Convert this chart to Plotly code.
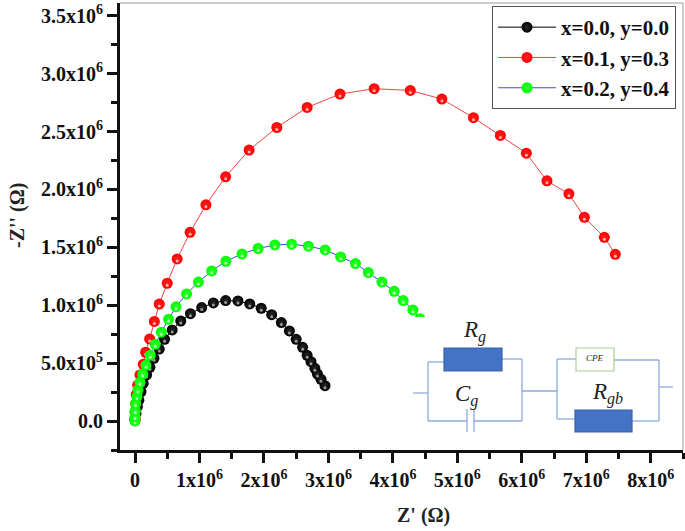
import plotly.graph_objects as go

# values, in units of 1e6 ohm
black_x = [0.0, 0.015, 0.036, 0.06, 0.093, 0.128, 0.18, 0.232, 0.294, 0.376, 0.459, 0.577, 0.71, 0.86, 1.035,
           1.216, 1.406, 1.597, 1.78, 1.958, 2.12, 2.27, 2.395, 2.50, 2.60, 2.67, 2.73, 2.79, 2.83, 2.885, 2.947]
black_y = [0.01, 0.066, 0.124, 0.18, 0.253, 0.326, 0.398, 0.464, 0.542, 0.622, 0.706, 0.787, 0.864, 0.927, 0.98,
           1.02, 1.04, 1.037, 1.011, 0.974, 0.919, 0.85, 0.778, 0.706, 0.637, 0.568, 0.513, 0.455, 0.406, 0.36, 0.305]

red_x = [0.0, 0.0, 0.01, 0.02, 0.042, 0.077, 0.128, 0.165, 0.227, 0.30, 0.376, 0.50, 0.654, 0.855, 1.10, 1.406,
         1.77, 2.20, 2.67, 3.18, 3.71, 4.27, 4.76, 5.25, 5.667, 6.07, 6.39, 6.73, 6.97, 7.28, 7.45]
red_y = [0.02, 0.08, 0.15, 0.23, 0.311, 0.398, 0.49, 0.594, 0.709, 0.86, 1.01, 1.19, 1.40, 1.63, 1.867, 2.109,
         2.34, 2.535, 2.708, 2.824, 2.87, 2.855, 2.78, 2.62, 2.466, 2.313, 2.074, 1.962, 1.76, 1.587, 1.44]

green_x = [0.0, 0.0, 0.005, 0.01, 0.03, 0.046, 0.077, 0.119, 0.17, 0.237, 0.314, 0.407, 0.52, 0.636, 0.80, 0.984,
           1.19, 1.41, 1.66, 1.91, 2.17, 2.43, 2.69, 2.95, 3.19, 3.42, 3.62, 3.83, 4.02, 4.16, 4.31, 4.42]
green_y = [0.0, 0.04, 0.09, 0.15, 0.21, 0.268, 0.334, 0.406, 0.481, 0.568, 0.663, 0.767, 0.878, 0.986, 1.098, 1.20,
           1.296, 1.38, 1.443, 1.49, 1.521, 1.527, 1.51, 1.478, 1.417, 1.36, 1.282, 1.20, 1.12, 1.04, 0.96, 0.884]

series_names = ["<b>x=0.0, y=0.0</b>", "<b>x=0.1, y=0.3</b>", "<b>x=0.2, y=0.4</b>"]

x_ticks = [0, 1e6, 2e6, 3e6, 4e6, 5e6, 6e6, 7e6, 8e6]
x_labels = ["<b>0</b>"] + [f"<b>{i}x10<sup>6</sup></b>" for i in range(1, 9)]
y_ticks = [0, 5e5, 1e6, 1.5e6, 2e6, 2.5e6, 3e6, 3.5e6]
y_labels = ["<b>0.0</b>", "<b>5.0x10<sup>5</sup></b>", "<b>1.0x10<sup>6</sup></b>", "<b>1.5x10<sup>6</sup></b>",
            "<b>2.0x10<sup>6</sup></b>", "<b>2.5x10<sup>6</sup></b>", "<b>3.0x10<sup>6</sup></b>",
            "<b>3.5x10<sup>6</sup></b>"]

FONT = "Liberation Serif"
INK = "#111111"
L, R, T, B = 120, 683, 3, 450
WIRE = "#8faadc"
BLOCK = "#4472c4"


def px(v):
    return (v - L) / (R - L)


def py(v):
    return 1 - (v - T) / (B - T)


fig = go.Figure()

styles = [
    (black_x, black_y, "#000000", "#000000", "#2a2a2a", "#999999"),
    (red_x, red_y, "#ee4444", "#ff0000", "#ff2020", "#ffb0b0"),
    (green_x, green_y, "#4444ee", "#00ff00", "#30ff30", "#b0ffb0"),
]
for name, (xs, ys, line_col, fill, core, shine) in zip(series_names, styles):
    fig.add_trace(go.Scatter(
        x=[v * 1e6 for v in xs], y=[v * 1e6 for v in ys],
        mode="lines+markers", name=name,
        line=dict(color=line_col, width=1),
        marker=dict(size=11, color=fill, line=dict(width=0),
                    gradient=dict(type="radial", color=core)),
    ))
    # little highlight that makes the balls look round
    fig.add_trace(go.Scatter(
        x=[v * 1e6 for v in xs], y=[v * 1e6 for v in ys],
        mode="markers", showlegend=False, hoverinfo="skip",
        marker=dict(size=3, color=shine, line=dict(width=0), angle=0, standoff=2),
    ))

# thin grey frame on top and right
shapes = [
    dict(type="line", x0=0, x1=1, y0=1, y1=1, xref="paper", yref="paper", line=dict(color="#999999", width=1)),
    dict(type="line", x0=1, x1=1, y0=0, y1=1, xref="paper", yref="paper", line=dict(color="#999999", width=1)),
]

# equivalent circuit inset
shapes.append(dict(type="rect", x0=px(413), x1=px(675), y0=py(317), y1=py(438),
                   xref="paper", yref="paper", fillcolor="white", line=dict(width=0)))


def wire(x0, y0, x1, y1, color=WIRE):
    shapes.append(dict(type="line", x0=px(x0), x1=px(x1), y0=py(y0), y1=py(y1),
                       xref="paper", yref="paper", line=dict(color=color, width=1.3)))


def block(x0, y0, x1, y1, fill, edge):
    shapes.append(dict(type="rect", x0=px(x0), x1=px(x1), y0=py(y0), y1=py(y1),
                       xref="paper", yref="paper", fillcolor=fill, line=dict(color=edge, width=1.2)))


wire(413, 393, 428, 393)
wire(428, 362, 428, 421)
wire(428, 362, 444, 362)
wire(502, 359, 522, 359)
wire(522, 359, 522, 421)
wire(428, 421, 467, 421)
wire(474, 421, 522, 421)
wire(467, 409, 467, 432)
wire(474, 409, 474, 432)
wire(522, 391, 557, 391)
wire(557, 359, 557, 419)
wire(557, 359, 576, 359)
wire(614, 360, 659, 360)
wire(659, 360, 659, 421)
wire(557, 419, 575, 419)
wire(632, 421, 659, 421)
wire(659, 387, 673, 387)
block(444, 348, 502, 371, BLOCK, "#3a62a8")
block(576, 348, 614, 371, "white", "#a9d18e")
block(575, 410, 632, 432, BLOCK, "#3a62a8")

notes = [
    dict(text="<i>R<sub>g</sub></i>", x=475, y=331, size=23, angle=0),
    dict(text="<i>C<sub>g</sub></i>", x=466, y=395, size=23, angle=0),
    dict(text="<i>CPE</i>", x=595, y=358, size=9, angle=0),
    dict(text="<i>R<sub>gb</sub></i>", x=607, y=393, size=23, angle=0),
    dict(text="<b>Z' (Ω)</b>", x=423, y=515, size=20, angle=0),
    dict(text="<b>-Z'' (Ω)</b>", x=17, y=216, size=20, angle=-90),
]
annotations = [dict(text=n["text"], x=px(n["x"]), y=py(n["y"]), xref="paper", yref="paper",
                    showarrow=False, textangle=n["angle"],
                    font=dict(family=FONT, size=n["size"], color="#222222"),
                    xanchor="center", yanchor="middle")
               for n in notes]

fig.update_layout(
    width=685, height=531,
    margin=dict(l=L, r=685 - R, t=T, b=531 - B, autoexpand=False),
    paper_bgcolor="white", plot_bgcolor="white",
    font=dict(family=FONT, color=INK),
    shapes=shapes, annotations=annotations,
    legend=dict(x=px(492), y=py(6), xanchor="left", yanchor="top",
                bgcolor="white", bordercolor="#555555", borderwidth=1,
                font=dict(family=FONT, size=21, color=INK),
                itemwidth=58),
    xaxis=dict(
        range=[-0.2326e6, 8.5e6], tickmode="array", tickvals=x_ticks, ticktext=x_labels,
        ticks="outside", ticklen=10, tickwidth=2.5, tickcolor=INK, automargin=False,
        showgrid=False, zeroline=False, showline=True, linecolor=INK, linewidth=3,
        tickfont=dict(family=FONT, size=20, color=INK),
        minor=dict(dtick=5e5, tick0=0, ticks="outside", ticklen=6, tickwidth=2.5, tickcolor=INK, showgrid=False),
    ),
    yaxis=dict(
        range=[-0.25e6, 3.61e6], tickmode="array", tickvals=y_ticks, ticktext=y_labels,
        ticks="outside", ticklen=10, tickwidth=2.5, tickcolor=INK, automargin=False,
        showgrid=False, zeroline=False, showline=True, linecolor=INK, linewidth=3,
        tickfont=dict(family=FONT, size=20, color=INK),
        minor=dict(dtick=2.5e5, tick0=0, ticks="outside", ticklen=6, tickwidth=2.5, tickcolor=INK, showgrid=False),
    ),
)

# the page body has a default margin, the picture must sit at the window corner
fig.write_html("out.html", config=dict(displayModeBar=False),
               post_script="document.body.style.margin='0';document.body.style.overflow='hidden';")
